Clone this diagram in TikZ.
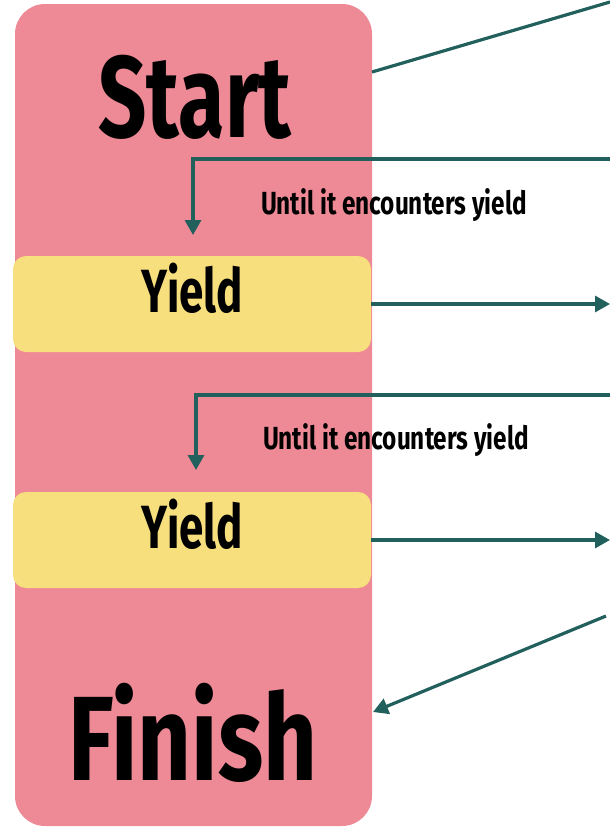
\documentclass[tikz,border=0pt]{standalone}
\usepackage{fontspec}
\newfontfamily\startfont[FakeStretch=0.73]{Fira Sans}
\newfontfamily\finishfont[FakeStretch=0.78]{Fira Sans}
\newfontfamily\yieldfont[FakeStretch=0.72]{Fira Sans}
\newfontfamily\notefont[FakeStretch=0.76]{Fira Sans}
\usetikzlibrary{arrows.meta}
\definecolor{pinkbg}{HTML}{EE8A96}
\definecolor{yieldbg}{HTML}{F8DF7E}
\definecolor{teal}{HTML}{22605D}
\tikzset{
  conn/.style={draw=teal, line width=3.2pt},
  arr/.style={conn, -{Triangle[length=15pt,width=16pt]}},
  bigtxt/.style={inner sep=0pt, anchor=base},
  yieldbox/.style={fill=yieldbg, rounded corners=13pt, minimum width=358pt, minimum height=96pt, inner sep=0pt},
  yieldtxt/.style={inner sep=0pt, anchor=base, font=\yieldfont\bfseries\fontsize{61}{61}\selectfont},
  note/.style={font=\notefont\bfseries\fontsize{32}{32}\selectfont, inner sep=0pt, anchor=base}
}
\begin{document}
\begin{tikzpicture}[x=1pt,y=-1pt]
\useasboundingbox (0,0) rectangle (610,828);
\node[fill=pinkbg, rounded corners=30pt, minimum width=357pt, minimum height=822pt, inner sep=0pt] (main) at (193.5,415) {};
\node[bigtxt, font=\startfont\bfseries\fontsize{116}{116}\selectfont] (start) at (195,137) {Start};
\node[bigtxt, font=\finishfont\bfseries\fontsize{120}{120}\selectfont] (finish) at (193,780) {Finish};
\node[yieldbox] (y1) at (192,304) {};
\node[yieldbox] (y2) at (192,540) {};
\node[yieldtxt] (t1) at (192,312) {Yield};
\node[yieldtxt] (t2) at (192,548) {Yield};
\node[note] (n1) at (394,214) {Until it encounters yield};
\node[note] (n2) at (396,449) {Until it encounters yield};
% free ends
\coordinate (s0) at (372,72);
\coordinate (s1) at (610,2);
\coordinate (a2) at (610,159);
\coordinate (a2e) at (193,235);
\coordinate (a3) at (610,304);
\coordinate (a4) at (610,395);
\coordinate (a4e) at (196,470);
\coordinate (a5) at (610,540);
\coordinate (f0) at (606,616);
\coordinate (f1) at (373,712);
\draw[conn] (s0) -- (s1);
\draw[arr] (a2) -| (a2e);
\draw[arr] (y1.east) -- (a3);
\draw[arr] (a4) -| (a4e);
\draw[arr] (y2.east) -- (a5);
\draw[arr] (f0) -- (f1);
\end{tikzpicture}
\end{document}
